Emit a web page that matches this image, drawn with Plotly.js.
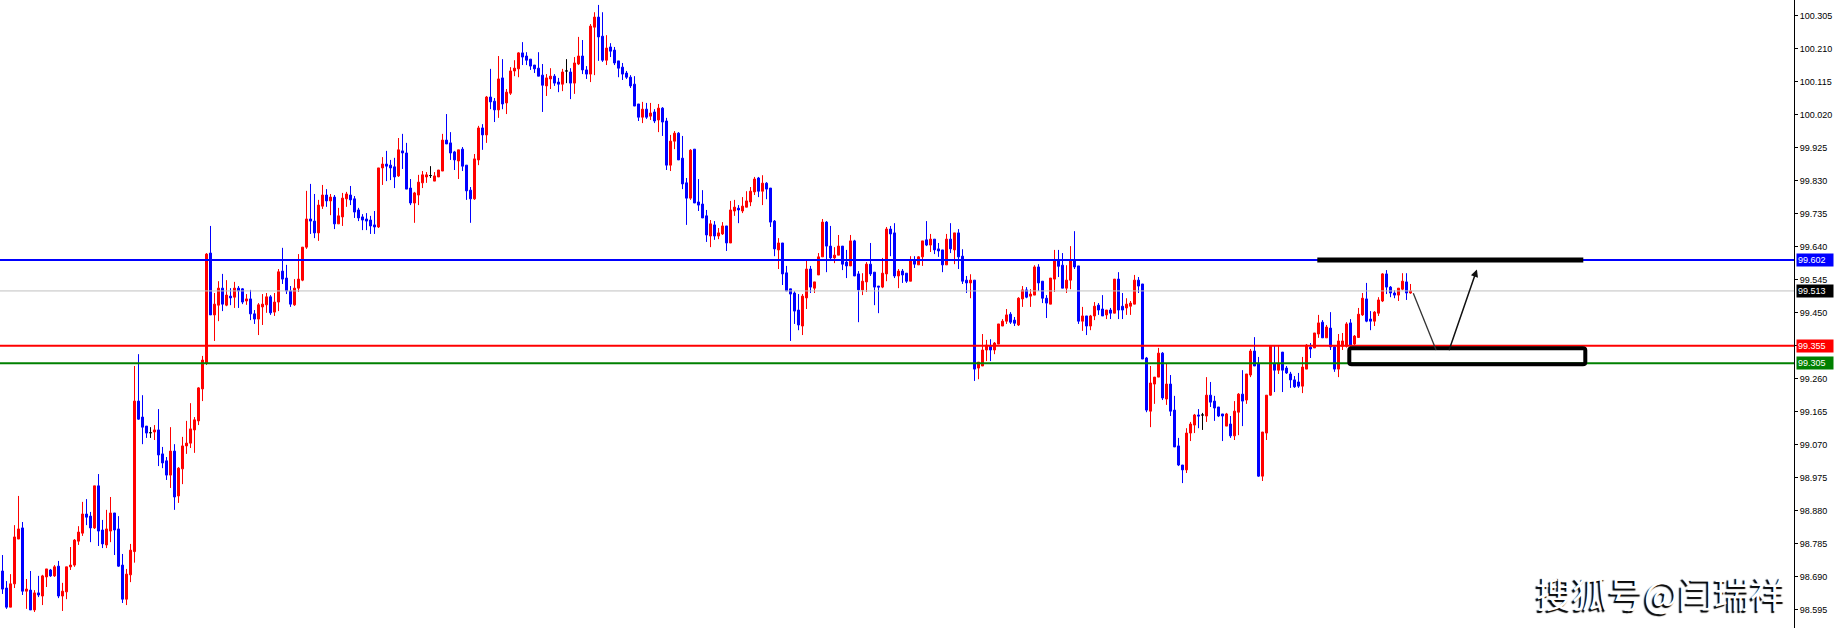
<!DOCTYPE html>
<html><head><meta charset="utf-8">
<script src="https://cdn.plot.ly/plotly-3.0.1.min.js"></script>
<style>html,body{margin:0;padding:0;background:#fff;overflow:hidden}#chart{width:1835px;height:628px}</style>
</head><body><div id="chart"></div>
<script>
const opens = [
98.707,98.658,98.603,98.670,98.799,98.831,98.649,98.652,98.595,98.644,
98.635,98.690,98.710,98.693,98.721,98.635,98.647,98.719,98.724,98.793,
98.816,98.871,98.865,98.831,98.952,98.825,98.782,98.822,98.874,98.828,
98.724,98.626,98.696,98.763,99.196,99.150,99.124,99.105,99.107,99.113,
99.044,99.024,98.983,99.052,98.923,99.001,99.067,99.075,99.113,99.139,
99.231,99.306,99.622,99.444,99.472,99.521,99.472,99.498,99.495,99.521,
99.519,99.484,99.490,99.447,99.432,99.467,99.473,99.496,99.452,99.481,
99.570,99.550,99.513,99.473,99.521,99.544,99.639,99.720,99.714,99.680,
99.757,99.789,99.772,99.783,99.706,99.726,99.778,99.789,99.778,99.746,
99.726,99.720,99.717,99.703,99.697,99.867,99.878,99.875,99.870,99.844,
99.916,99.910,99.809,99.766,99.789,99.824,99.841,99.845,99.829,99.841,
99.858,99.947,99.939,99.913,99.887,99.921,99.875,99.803,99.778,99.890,
99.982,99.962,100.071,100.059,100.034,100.126,100.054,100.082,100.146,100.152,
100.198,100.189,100.180,100.163,100.154,100.134,100.103,100.123,100.131,100.114,
100.108,100.146,100.143,100.111,100.166,100.189,100.149,100.137,100.272,100.301,
100.246,100.177,100.215,100.206,100.175,100.157,100.140,100.128,100.108,100.051,
100.013,100.036,100.016,100.028,100.005,100.039,100.002,99.875,99.944,99.967,
99.895,99.824,99.780,99.921,99.769,99.763,99.729,99.671,99.703,99.671,
99.677,99.700,99.651,99.743,99.751,99.743,99.754,99.769,99.798,99.838,
99.800,99.823,99.809,99.714,99.631,99.651,99.565,99.519,99.507,99.458,
99.412,99.493,99.576,99.521,99.559,99.611,99.711,99.642,99.608,99.616,
99.642,99.596,99.585,99.657,99.562,99.516,99.539,99.590,99.567,99.527,
99.524,99.562,99.691,99.680,99.556,99.570,99.564,99.541,99.599,99.588,
99.611,99.660,99.645,99.662,99.634,99.631,99.588,99.662,99.631,99.680,
99.613,99.544,99.536,99.544,99.291,99.297,99.343,99.354,99.343,99.360,
99.412,99.426,99.446,99.429,99.415,99.490,99.516,99.498,99.501,99.582,
99.541,99.492,99.475,99.547,99.599,99.587,99.521,99.544,99.602,99.585,
99.426,99.441,99.412,99.441,99.472,99.461,99.444,99.458,99.449,99.547,
99.469,99.464,99.469,99.475,99.544,99.533,99.320,99.167,99.245,99.265,
99.334,99.202,99.245,99.170,99.067,99.012,98.998,99.104,99.127,99.156,
99.156,99.153,99.213,99.196,99.179,99.159,99.124,99.130,99.096,99.164,
99.216,99.199,99.271,99.340,99.303,98.980,99.104,99.213,99.303,99.285,
99.337,99.291,99.274,99.257,99.251,99.239,99.288,99.351,99.349,99.389,
99.423,99.378,99.406,99.352,99.288,99.354,99.354,99.421,99.360,99.379,
99.444,99.490,99.432,99.426,99.449,99.484,99.562,99.524,99.507,99.501,99.518,99.539,99.507];
const highs = [
98.753,98.678,98.698,98.839,98.923,98.848,98.684,98.707,98.652,98.693,
98.696,98.713,98.713,98.724,98.736,98.673,98.719,98.776,98.799,98.836,
98.906,98.914,98.877,98.952,98.986,98.854,98.883,98.920,98.874,98.865,
98.756,98.713,98.785,99.297,99.331,99.213,99.124,99.121,99.127,99.173,
99.064,99.035,99.121,99.072,99.006,99.093,99.139,99.190,99.150,99.236,
99.326,99.622,99.700,99.507,99.541,99.562,99.544,99.521,99.539,99.527,
99.521,99.504,99.516,99.458,99.478,99.504,99.507,99.501,99.507,99.576,
99.637,99.588,99.527,99.547,99.619,99.639,99.801,99.821,99.792,99.775,
99.818,99.806,99.792,99.789,99.752,99.795,99.798,99.815,99.786,99.752,
99.734,99.737,99.729,99.743,99.867,99.898,99.916,99.890,99.896,99.953,
99.965,99.939,99.835,99.798,99.847,99.858,99.855,99.872,99.855,99.861,
99.965,100.022,99.970,99.916,99.919,99.927,99.875,99.812,99.907,99.988,
99.993,100.074,100.152,100.068,100.189,100.180,100.094,100.157,100.177,100.200,
100.229,100.200,100.180,100.163,100.200,100.166,100.137,100.154,100.137,100.126,
100.152,100.180,100.154,100.186,100.244,100.235,100.160,100.281,100.315,100.336,
100.315,100.249,100.226,100.215,100.175,100.169,100.146,100.134,100.131,100.051,
100.057,100.054,100.054,100.036,100.051,100.042,100.011,99.962,99.973,99.970,
99.959,99.838,99.921,99.921,99.835,99.803,99.746,99.717,99.714,99.694,
99.711,99.700,99.772,99.775,99.760,99.783,99.800,99.812,99.841,99.841,
99.846,99.826,99.809,99.717,99.665,99.651,99.585,99.519,99.512,99.504,
99.504,99.602,99.585,99.539,99.622,99.720,99.714,99.700,99.639,99.674,
99.642,99.631,99.674,99.660,99.570,99.564,99.596,99.651,99.567,99.527,
99.608,99.697,99.700,99.708,99.576,99.576,99.564,99.613,99.613,99.613,
99.657,99.714,99.677,99.662,99.651,99.631,99.677,99.708,99.680,99.691,
99.633,99.556,99.561,99.544,99.308,99.389,99.372,99.374,99.366,99.418,
99.432,99.461,99.452,99.438,99.495,99.527,99.524,99.518,99.587,99.590,
99.541,99.501,99.550,99.631,99.631,99.622,99.587,99.642,99.685,99.585,
99.467,99.441,99.444,99.481,99.478,99.501,99.458,99.464,99.547,99.567,
99.507,99.492,99.484,99.559,99.553,99.533,99.323,99.297,99.265,99.349,
99.337,99.303,99.271,99.211,99.090,99.012,99.118,99.136,99.159,99.173,
99.162,99.265,99.251,99.211,99.179,99.159,99.162,99.153,99.196,99.219,
99.285,99.274,99.346,99.380,99.323,99.107,99.213,99.354,99.357,99.354,
99.337,99.297,99.280,99.268,99.277,99.323,99.360,99.363,99.392,99.444,
99.429,99.415,99.452,99.354,99.389,99.392,99.423,99.432,99.386,99.464,
99.507,99.536,99.455,99.455,99.495,99.564,99.573,99.527,99.515,99.521,99.564,99.564,99.533];
const lows = [
98.641,98.598,98.603,98.658,98.799,98.638,98.598,98.595,98.589,98.632,
98.609,98.661,98.690,98.690,98.629,98.592,98.626,98.710,98.719,98.782,
98.808,98.839,98.790,98.828,98.779,98.773,98.773,98.790,98.753,98.719,
98.615,98.609,98.675,98.731,99.142,99.072,99.090,99.090,99.084,99.009,
99.003,98.969,98.946,98.883,98.903,98.957,99.044,99.061,99.047,99.127,
99.196,99.300,99.444,99.369,99.426,99.455,99.469,99.472,99.464,99.464,
99.475,99.473,99.429,99.418,99.386,99.415,99.450,99.444,99.441,99.455,
99.533,99.504,99.467,99.470,99.510,99.541,99.634,99.677,99.665,99.657,
99.749,99.755,99.731,99.691,99.706,99.700,99.755,99.760,99.723,99.714,
99.688,99.688,99.677,99.677,99.694,99.818,99.829,99.832,99.809,99.841,
99.864,99.806,99.760,99.709,99.760,99.809,99.824,99.838,99.829,99.841,
99.858,99.936,99.890,99.861,99.835,99.858,99.775,99.709,99.775,99.875,
99.919,99.939,100.036,99.999,100.011,100.036,100.022,100.077,100.131,100.128,
100.163,100.163,100.149,100.140,100.131,100.028,100.074,100.094,100.103,100.085,
100.088,100.111,100.065,100.080,100.163,100.137,100.123,100.114,100.134,100.175,
100.172,100.163,100.186,100.163,100.128,100.120,100.123,100.097,100.045,100.002,
99.996,100.008,100.005,99.996,99.970,99.959,99.861,99.858,99.921,99.890,
99.806,99.703,99.775,99.766,99.743,99.723,99.654,99.639,99.660,99.662,
99.674,99.628,99.651,99.729,99.708,99.737,99.754,99.757,99.789,99.783,
99.760,99.777,99.697,99.613,99.576,99.530,99.513,99.369,99.418,99.400,
99.386,99.461,99.507,99.507,99.559,99.611,99.567,99.599,99.593,99.616,
99.573,99.550,99.585,99.556,99.423,99.501,99.510,99.556,99.472,99.449,
99.521,99.541,99.613,99.550,99.521,99.536,99.536,99.541,99.579,99.588,
99.585,99.642,99.625,99.619,99.611,99.567,99.588,99.622,99.590,99.576,
99.533,99.507,99.492,99.254,99.259,99.297,99.311,99.311,99.331,99.360,
99.412,99.418,99.418,99.412,99.412,99.467,99.492,99.467,99.501,99.513,
99.478,99.435,99.475,99.510,99.553,99.521,99.507,99.518,99.576,99.418,
99.398,99.386,99.400,99.429,99.444,99.441,99.432,99.432,99.449,99.432,
99.432,99.444,99.444,99.475,99.507,99.317,99.164,99.121,99.188,99.265,
99.199,99.185,99.153,99.064,99.009,98.960,98.989,99.081,99.104,99.118,
99.113,99.136,99.179,99.139,99.150,99.081,99.124,99.090,99.084,99.098,
99.124,99.188,99.265,99.297,98.978,98.966,99.084,99.211,99.222,99.274,
99.222,99.274,99.234,99.234,99.234,99.219,99.288,99.320,99.349,99.378,
99.378,99.378,99.343,99.280,99.265,99.343,99.350,99.352,99.357,99.379,
99.441,99.423,99.400,99.412,99.441,99.481,99.504,99.495,99.492,99.484,99.515,99.487,99.505];
const closes = [
98.655,98.603,98.670,98.805,98.828,98.649,98.655,98.595,98.644,98.638,
98.693,98.713,98.693,98.719,98.635,98.649,98.719,98.724,98.796,98.819,
98.871,98.862,98.831,98.952,98.822,98.785,98.828,98.874,98.825,98.721,
98.626,98.698,98.767,99.196,99.144,99.121,99.104,99.105,99.113,99.041,
99.018,98.983,99.052,98.920,99.003,99.067,99.075,99.116,99.142,99.234,
99.314,99.619,99.444,99.475,99.521,99.475,99.501,99.493,99.521,99.513,
99.481,99.490,99.447,99.432,99.473,99.475,99.496,99.450,99.481,99.568,
99.547,99.513,99.475,99.521,99.547,99.639,99.720,99.714,99.680,99.760,
99.789,99.772,99.783,99.706,99.729,99.780,99.792,99.775,99.740,99.723,
99.717,99.714,99.700,99.697,99.867,99.878,99.872,99.867,99.841,99.919,
99.910,99.806,99.766,99.795,99.826,99.847,99.847,99.845,99.844,99.861,
99.947,99.936,99.910,99.890,99.919,99.872,99.801,99.778,99.893,99.982,
99.962,100.071,100.057,100.034,100.123,100.051,100.085,100.146,100.154,100.198,
100.186,100.177,100.160,100.152,100.131,100.105,100.126,100.131,100.111,100.108,
100.143,100.146,100.111,100.169,100.189,100.149,100.137,100.275,100.301,100.244,
100.177,100.212,100.203,100.169,100.154,100.137,100.128,100.103,100.045,100.013,
100.036,100.013,100.025,100.002,100.039,99.999,99.875,99.944,99.967,99.890,
99.821,99.780,99.918,99.766,99.760,99.723,99.674,99.706,99.671,99.680,
99.700,99.651,99.746,99.754,99.746,99.757,99.772,99.800,99.835,99.800,
99.823,99.806,99.711,99.634,99.651,99.562,99.513,99.504,99.455,99.415,
99.498,99.576,99.524,99.539,99.611,99.711,99.642,99.608,99.616,99.642,
99.590,99.585,99.657,99.556,99.516,99.541,99.590,99.562,99.524,99.524,
99.564,99.691,99.677,99.556,99.570,99.559,99.541,99.602,99.590,99.611,
99.657,99.645,99.662,99.631,99.628,99.588,99.662,99.634,99.680,99.611,
99.541,99.536,99.544,99.288,99.308,99.343,99.357,99.343,99.363,99.418,
99.426,99.444,99.423,99.420,99.492,99.516,99.495,99.504,99.582,99.536,
99.492,99.478,99.550,99.599,99.584,99.521,99.544,99.599,99.582,99.426,
99.441,99.412,99.441,99.469,99.458,99.441,99.458,99.449,99.547,99.458,
99.458,99.475,99.478,99.544,99.527,99.317,99.170,99.248,99.265,99.334,
99.205,99.245,99.167,99.064,99.012,98.998,99.104,99.130,99.156,99.153,
99.156,99.213,99.193,99.176,99.153,99.153,99.159,99.096,99.167,99.216,
99.196,99.274,99.340,99.297,98.980,99.107,99.213,99.354,99.285,99.303,
99.285,99.277,99.257,99.237,99.239,99.294,99.357,99.346,99.392,99.421,
99.378,99.409,99.352,99.288,99.369,99.369,99.418,99.357,99.383,99.446,
99.492,99.426,99.426,99.452,99.487,99.562,99.524,99.507,99.501,99.521,99.541,99.507,99.513];

const tickValues = [100.305,100.210,100.115,100.020,99.925,99.830,99.735,99.640,99.545,99.450,
                    99.355,99.260,99.165,99.070,98.975,98.880,98.785,98.690,98.595];
const levelPrices = [99.602, 99.513, 99.355, 99.305];
const levelColors = ['#0000ff', '#c0c0c0', '#ff0000', '#008000'];
const levelWidths = [2, 1, 2, 2];
const labelBg = ['#0000ff', '#000000', '#ff0000', '#008000'];
// drawn annotations (candle-index, price)
const zoneLine = {x0: 328.7, x1: 395.2, y: 99.602};
const zoneBox = {x0: 336.7, x1: 395.7, y0: 99.302, y1: 99.348};
const pathDown = {x0: 352.7, y0: 99.506, x1: 358.4, y1: 99.343};
const pathUp = {x0: 361.5, y0: 99.338, x1: 368.6, y1: 99.575};
const watermark = '搜狐号@闫瑞祥';

const n = opens.length;
const idx = opens.map((_, i) => i);
function subset(cond) {
  const o = {x: [], open: [], high: [], low: [], close: []};
  for (let i = 0; i < n; i++) {
    if (cond(opens[i], closes[i])) {
      o.x.push(idx[i]); o.open.push(opens[i]); o.high.push(highs[i]);
      o.low.push(lows[i]); o.close.push(closes[i]);
    }
  }
  return o;
}
function candle(d, color) {
  return Object.assign({
    type: 'candlestick', hoverinfo: 'skip', whiskerwidth: 0,
    increasing: {line: {color: color, width: 1}, fillcolor: color},
    decreasing: {line: {color: color, width: 1}, fillcolor: color}
  }, d);
}
const traces = [
  candle(subset((o, c) => c > o), '#ff0000'),
  candle(subset((o, c) => c < o), '#0000ff'),
  candle(subset((o, c) => c === o), '#000000')
];

// rounded-corner rectangle path in data coordinates
function roundRect(b, rx, ry) {
  return 'M' + (b.x0 + rx) + ',' + b.y1 +
    ' L' + (b.x1 - rx) + ',' + b.y1 + ' Q' + b.x1 + ',' + b.y1 + ' ' + b.x1 + ',' + (b.y1 - ry) +
    ' L' + b.x1 + ',' + (b.y0 + ry) + ' Q' + b.x1 + ',' + b.y0 + ' ' + (b.x1 - rx) + ',' + b.y0 +
    ' L' + (b.x0 + rx) + ',' + b.y0 + ' Q' + b.x0 + ',' + b.y0 + ' ' + b.x0 + ',' + (b.y0 + ry) +
    ' L' + b.x0 + ',' + (b.y1 - ry) + ' Q' + b.x0 + ',' + b.y1 + ' ' + (b.x0 + rx) + ',' + b.y1 + ' Z';
}

const shapes = [];
levelPrices.forEach((p, k) => {
  shapes.push({type: 'line', xref: 'paper', x0: 0, x1: 1, yref: 'y', y0: p, y1: p,
    line: {color: levelColors[k], width: levelWidths[k]}, layer: 'above'});
});
shapes.push({type: 'line', xref: 'x', yref: 'y', x0: zoneLine.x0, x1: zoneLine.x1, y0: zoneLine.y, y1: zoneLine.y,
  line: {color: '#000', width: 5}});
shapes.push({type: 'path', xref: 'x', yref: 'y', path: roundRect(zoneBox, 0.6, 0.006),
  line: {color: '#000', width: 4}, fillcolor: 'rgba(0,0,0,0)'});
shapes.push({type: 'line', xref: 'x', yref: 'y', x0: pathDown.x0, y0: pathDown.y0, x1: pathDown.x1, y1: pathDown.y1,
  line: {color: '#333', width: 1.3}});

const annotations = [];
levelPrices.forEach((p, k) => {
  annotations.push({xref: 'paper', x: 1, xanchor: 'left', xshift: 2, yref: 'y', y: p, yanchor: 'middle',
    text: p.toFixed(3), showarrow: false, bgcolor: labelBg[k], borderpad: 1, width: 34, align: 'left',
    font: {family: 'Liberation Sans, Arial, sans-serif', size: 9, color: '#fff'}});
});
annotations.push({xref: 'x', yref: 'y', x: pathUp.x1, y: pathUp.y1, axref: 'x', ayref: 'y', ax: pathUp.x0, ay: pathUp.y0,
  showarrow: true, arrowhead: 2, arrowsize: 1, arrowwidth: 1.5, arrowcolor: '#111', text: ''});
annotations.push({xref: 'paper', yref: 'paper', x: 0.9967, y: 0.057, xanchor: 'right', yanchor: 'middle',
  text: watermark, showarrow: false,
  font: {family: 'Noto Sans CJK SC, sans-serif', size: 36, color: '#fff', shadow: '-2px 2px 1px #000'}});

const layout = {
  width: 1835, height: 628,
  margin: {l: 0, r: 41, t: 0, b: 0, pad: 0},
  paper_bgcolor: '#fff', plot_bgcolor: '#fff',
  showlegend: false, boxgap: 0.5, boxgroupgap: 0,
  xaxis: {range: [-0.625, 447.875], showgrid: false, zeroline: false, showticklabels: false, ticks: '',
    showline: false, rangeslider: {visible: false}, fixedrange: true},
  yaxis: {range: [98.543, 100.3502], side: 'right', showgrid: false, zeroline: false,
    tickmode: 'array', tickvals: tickValues, ticktext: tickValues.map(v => v.toFixed(3)),
    ticks: 'outside', ticklen: 3, tickcolor: '#000', tickwidth: 1,
    showline: true, linecolor: '#000', linewidth: 1,
    tickfont: {family: 'Liberation Sans, Arial, sans-serif', size: 9, color: '#000'}},
  shapes: shapes, annotations: annotations
};
Plotly.newPlot('chart', traces, layout, {staticPlot: true, displayModeBar: false});
</script></body></html>
